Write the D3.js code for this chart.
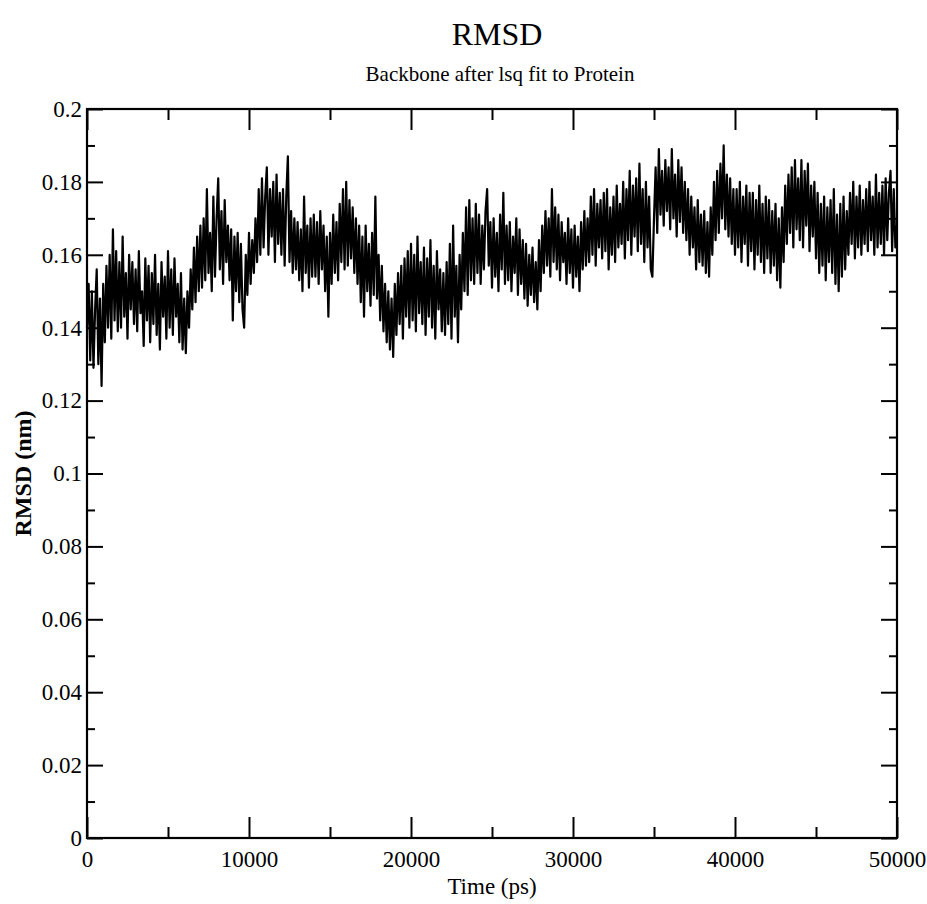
<!DOCTYPE html>
<html>
<head>
<meta charset="utf-8">
<script src="https://cdn.jsdelivr.net/npm/d3@7"></script>
<style>
  html, body { margin: 0; padding: 0; background: #fff; }
  svg text { font-family: "Liberation Serif", "DejaVu Serif", serif; fill: #000; }
</style>
</head>
<body>
<svg id="chart" width="927" height="904"></svg>
<script>
const dt = 100;
const rmsd = [
  0.140, 0.152, 0.131, 0.150, 0.129, 0.145, 0.156, 0.130, 0.148, 0.124,
  0.152, 0.136, 0.157, 0.140, 0.160, 0.137, 0.167, 0.142, 0.161, 0.139,
  0.158, 0.140, 0.165, 0.143, 0.155, 0.137, 0.160, 0.145, 0.158, 0.141,
  0.156, 0.139, 0.161, 0.144, 0.150, 0.135, 0.159, 0.142, 0.157, 0.136,
  0.155, 0.141, 0.160, 0.138, 0.152, 0.134, 0.158, 0.143, 0.154, 0.137,
  0.161, 0.140, 0.156, 0.138, 0.159, 0.143, 0.152, 0.136, 0.155, 0.134,
  0.148, 0.133, 0.150, 0.140, 0.156, 0.145, 0.162, 0.147, 0.165, 0.150,
  0.168, 0.151, 0.170, 0.153, 0.178, 0.155, 0.166, 0.150, 0.176, 0.154,
  0.170, 0.181, 0.156, 0.172, 0.152, 0.175, 0.158, 0.168, 0.153, 0.167,
  0.142, 0.165, 0.150, 0.166, 0.147, 0.163, 0.145, 0.140, 0.160, 0.149,
  0.166, 0.152, 0.164, 0.155, 0.170, 0.158, 0.178, 0.160, 0.181, 0.162,
  0.176, 0.184, 0.160, 0.178, 0.165, 0.180, 0.158, 0.182, 0.163, 0.177,
  0.160, 0.178, 0.157, 0.176, 0.187, 0.158, 0.172, 0.155, 0.170, 0.156,
  0.169, 0.153, 0.167, 0.150, 0.176, 0.155, 0.168, 0.151, 0.170, 0.154,
  0.171, 0.154, 0.169, 0.152, 0.172, 0.156, 0.168, 0.150, 0.165, 0.143,
  0.166, 0.152, 0.171, 0.155, 0.169, 0.153, 0.174, 0.158, 0.178, 0.156,
  0.180, 0.157, 0.175, 0.159, 0.173, 0.155, 0.170, 0.152, 0.168, 0.147,
  0.165, 0.143, 0.168, 0.150, 0.163, 0.146, 0.166, 0.149, 0.176, 0.148,
  0.160, 0.142, 0.157, 0.139, 0.152, 0.136, 0.150, 0.134, 0.148, 0.132,
  0.152, 0.138, 0.155, 0.141, 0.157, 0.137, 0.159, 0.143, 0.161, 0.140,
  0.163, 0.142, 0.160, 0.139, 0.165, 0.144, 0.158, 0.141, 0.162, 0.138,
  0.159, 0.143, 0.164, 0.140, 0.157, 0.137, 0.161, 0.145, 0.156, 0.139,
  0.155, 0.138, 0.158, 0.141, 0.163, 0.137, 0.168, 0.143, 0.157, 0.136,
  0.160, 0.145, 0.166, 0.150, 0.173, 0.149, 0.175, 0.153, 0.170, 0.152,
  0.174, 0.155, 0.171, 0.152, 0.168, 0.156, 0.172, 0.178, 0.157, 0.169,
  0.151, 0.170, 0.154, 0.166, 0.150, 0.171, 0.156, 0.177, 0.152, 0.168,
  0.153, 0.169, 0.150, 0.165, 0.155, 0.170, 0.149, 0.167, 0.152, 0.164,
  0.148, 0.163, 0.146, 0.160, 0.149, 0.162, 0.147, 0.158, 0.145, 0.164,
  0.150, 0.168, 0.155, 0.172, 0.157, 0.170, 0.154, 0.178, 0.158, 0.173,
  0.156, 0.171, 0.153, 0.169, 0.158, 0.166, 0.152, 0.170, 0.155, 0.167,
  0.151, 0.168, 0.154, 0.165, 0.150, 0.169, 0.156, 0.172, 0.157, 0.170,
  0.158, 0.176, 0.160, 0.178, 0.157, 0.174, 0.162, 0.175, 0.159, 0.177,
  0.161, 0.178, 0.156, 0.173, 0.160, 0.176, 0.158, 0.179, 0.162, 0.174,
  0.163, 0.180, 0.159, 0.178, 0.164, 0.183, 0.160, 0.179, 0.165, 0.181,
  0.161, 0.185, 0.163, 0.178, 0.158, 0.180, 0.162, 0.176, 0.156, 0.154,
  0.170, 0.184, 0.166, 0.189, 0.171, 0.183, 0.168, 0.186, 0.172, 0.184,
  0.167, 0.189, 0.170, 0.182, 0.165, 0.186, 0.169, 0.184, 0.166, 0.180,
  0.164, 0.178, 0.160, 0.176, 0.162, 0.173, 0.156, 0.175, 0.158, 0.171,
  0.157, 0.172, 0.155, 0.169, 0.154, 0.173, 0.160, 0.180, 0.164, 0.183,
  0.166, 0.185, 0.170, 0.190, 0.167, 0.182, 0.165, 0.181, 0.163, 0.178,
  0.160, 0.178, 0.162, 0.180, 0.158, 0.176, 0.163, 0.179, 0.157, 0.177,
  0.161, 0.177, 0.156, 0.175, 0.160, 0.179, 0.158, 0.174, 0.155, 0.176,
  0.159, 0.175, 0.155, 0.172, 0.157, 0.174, 0.153, 0.170, 0.151, 0.173,
  0.158, 0.179, 0.163, 0.182, 0.166, 0.184, 0.162, 0.186, 0.167, 0.181,
  0.164, 0.186, 0.162, 0.183, 0.168, 0.185, 0.161, 0.179, 0.165, 0.180,
  0.159, 0.177, 0.155, 0.174, 0.157, 0.176, 0.153, 0.173, 0.158, 0.175,
  0.155, 0.178, 0.152, 0.171, 0.150, 0.174, 0.154, 0.176, 0.156, 0.172,
  0.160, 0.177, 0.163, 0.180, 0.159, 0.176, 0.162, 0.179, 0.160, 0.175,
  0.163, 0.178, 0.161, 0.180, 0.164, 0.176, 0.160, 0.182, 0.162, 0.177,
  0.163, 0.179, 0.160, 0.181, 0.164, 0.177, 0.183, 0.161, 0.178, 0.162, 0.168
];

const xTicks = [0, 10000, 20000, 30000, 40000, 50000];
const xMinor = [5000, 15000, 25000, 35000, 45000];
const yTicks = [0, 0.02, 0.04, 0.06, 0.08, 0.1, 0.12, 0.14, 0.16, 0.18, 0.2];
const yMinor = [0.01, 0.03, 0.05, 0.07, 0.09, 0.11, 0.13, 0.15, 0.17, 0.19];

const title = 'RMSD';
const subtitle = 'Backbone after lsq fit to Protein';
const xLabel = 'Time (ps)';
const yLabel = 'RMSD (nm)';

const pLeft = 87, pRight = 897, pTop = 109, pBottom = 838;
const svg = d3.select('#chart');

const x = d3.scaleLinear().domain([0, 50000]).range([pLeft, pRight]);
const y = d3.scaleLinear().domain([0, 0.2]).range([pBottom, pTop]);

const fmt = d => String(+d.toFixed(2));

// data line (drawn first, frame goes on top)
const line = d3.line().x((d, i) => x(i * dt)).y(d => y(d));
svg.append('path')
    .datum(rmsd)
    .attr('d', line)
    .attr('fill', 'none')
    .attr('stroke', '#000')
    .attr('stroke-width', 2.2)
    .attr('stroke-linejoin', 'round');

// axes, ticks pointing inward on all four sides
function axis(gen, tr, vals, size, pad, format) {
    const g = svg.append('g')
        .attr('transform', tr)
        .call(gen.tickValues(vals).tickSizeInner(size).tickSizeOuter(0)
            .tickPadding(pad)
            .tickFormat(format || ''));
    g.select('.domain').remove();
    g.selectAll('line').attr('stroke', '#000').attr('stroke-width', 2);
    g.selectAll('text').attr('font-size', 23).attr('font-family', 'Liberation Serif');
    return g;
}
axis(d3.axisBottom(x), `translate(0,${pBottom})`, xTicks, -21, 13, d3.format('d'));
axis(d3.axisBottom(x), `translate(0,${pBottom})`, xMinor, -11, 0);
axis(d3.axisTop(x), `translate(0,${pTop})`, xTicks, -21, 0);
axis(d3.axisTop(x), `translate(0,${pTop})`, xMinor, -11, 0);
axis(d3.axisLeft(y), `translate(${pLeft},0)`, yTicks, -16, 5, fmt);
axis(d3.axisLeft(y), `translate(${pLeft},0)`, yMinor, -8, 0);
axis(d3.axisRight(y), `translate(${pRight},0)`, yTicks, -16, 0);
axis(d3.axisRight(y), `translate(${pRight},0)`, yMinor, -8, 0);

svg.append('rect')
    .attr('x', pLeft).attr('y', pTop)
    .attr('width', pRight - pLeft).attr('height', pBottom - pTop)
    .attr('fill', 'none').attr('stroke', '#000').attr('stroke-width', 2.2);

// titles
svg.append('text').attr('x', 497).attr('y', 45).attr('text-anchor', 'middle')
    .attr('font-size', 32).text(title);
svg.append('text').attr('x', 500).attr('y', 81).attr('text-anchor', 'middle')
    .attr('font-size', 21).text(subtitle);
svg.append('text').attr('x', (pLeft + pRight) / 2).attr('y', 894).attr('text-anchor', 'middle')
    .attr('font-size', 23).text(xLabel);
svg.append('text')
    .attr('transform', `translate(31,${(pTop + pBottom) / 2}) rotate(-90)`)
    .attr('text-anchor', 'middle').attr('font-size', 24).attr('font-weight', 'bold')
    .text(yLabel);
</script>
</body>
</html>
